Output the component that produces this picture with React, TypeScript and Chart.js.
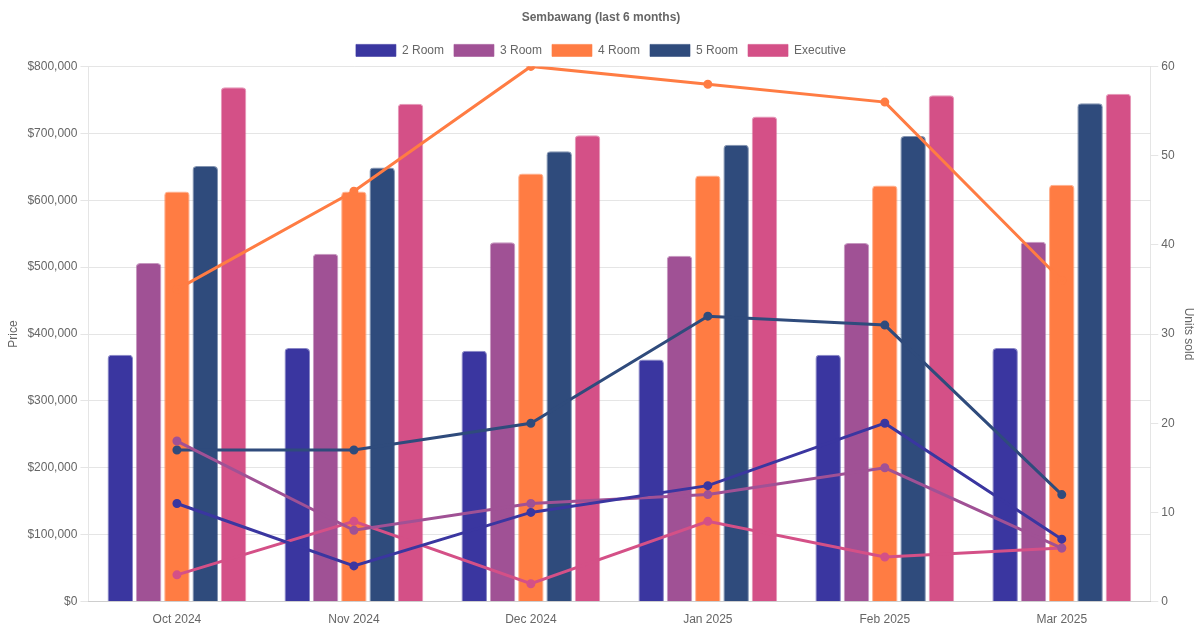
import { useEffect, useRef } from 'react';
import { Chart, registerables } from 'chart.js';

Chart.register(...registerables);

const MONTHS = ['Oct 2024', 'Nov 2024', 'Dec 2024', 'Jan 2025', 'Feb 2025', 'Mar 2025'];
const FLAT_TYPES = ['2 Room', '3 Room', '4 Room', '5 Room', 'Executive'];
const COLORS = ['#3a36a0', '#a05195', '#ff7c43', '#2f4b7c', '#d45087'];

// median price per flat type (left axis)
const PRICE_2R = [369000, 379000, 375000, 362000, 369000, 379000];
const PRICE_3R = [506000, 520000, 537000, 517000, 536000, 538000];
const PRICE_4R = [613000, 613000, 640000, 637000, 622000, 623000];
const PRICE_5R = [651000, 649000, 673000, 683000, 696000, 745000];
const PRICE_EX = [769000, 744000, 697000, 725000, 757000, 759000];

// units sold per flat type (right axis)
const UNITS_2R = [11, 4, 10, 13, 20, 7];
const UNITS_3R = [18, 8, 11, 12, 15, 6];
const UNITS_4R = [35, 46, 60, 58, 56, 36];
const UNITS_5R = [17, 17, 20, 32, 31, 12];
const UNITS_EX = [3, 9, 2, 9, 5, 6];

const PRICES = [PRICE_2R, PRICE_3R, PRICE_4R, PRICE_5R, PRICE_EX];
const UNITS = [UNITS_2R, UNITS_3R, UNITS_4R, UNITS_5R, UNITS_EX];

const App: React.FC = () => {
    const chartRef = useRef<HTMLCanvasElement | null>(null);

    useEffect(() => {
        const ctx = chartRef.current?.getContext('2d');
        if (!ctx) return;

        const barSets = FLAT_TYPES.map((name, i) => ({
            type: 'bar' as const,
            label: name,
            data: PRICES[i],
            backgroundColor: COLORS[i],
            borderColor: COLORS[i] + '99',
            borderWidth: 1,
            borderRadius: 4,
            yAxisID: 'y',
            order: 2,
        }));

        const lineSets = FLAT_TYPES.map((name, i) => ({
            type: 'line' as const,
            label: name + ' units',
            data: UNITS[i],
            borderColor: COLORS[i],
            backgroundColor: COLORS[i],
            borderWidth: 3,
            pointRadius: 3,
            tension: 0,
            yAxisID: 'y1',
            order: 1,
        }));

        const chart = new Chart(ctx, {
            type: 'bar',
            data: { labels: MONTHS, datasets: [...barSets, ...lineSets] as any },
            options: {
                responsive: true,
                maintainAspectRatio: false,
                animation: false,
                layout: { padding: { left: 2 } },
                plugins: {
                    title: {
                        display: true,
                        text: 'Sembawang (last 6 months)',
                        color: '#666',
                        font: { size: 12, weight: 'bold' },
                    },
                    legend: {
                        labels: {
                            color: '#666',
                            filter: (item) => FLAT_TYPES.includes(item.text),
                        },
                    },
                },
                scales: {
                    x: {
                        grid: { display: false },
                        ticks: { color: '#666' },
                    },
                    y: {
                        position: 'left',
                        min: 0,
                        max: 800000,
                        ticks: {
                            stepSize: 100000,
                            color: '#666',
                            callback: (v) => '$' + Number(v).toLocaleString('en-US'),
                        },
                        title: { display: true, text: 'Price', color: '#666' },
                    },
                    y1: {
                        position: 'right',
                        min: 0,
                        max: 60,
                        grid: { drawOnChartArea: false },
                        ticks: { stepSize: 10, color: '#666' },
                        title: { display: true, text: 'Units sold', color: '#666' },
                    },
                },
            },
        });

        return () => {
            chart.destroy();
        };
    }, []);

    return (
        <div style={{ position: 'fixed', left: 0, top: 0, width: 1200, height: 630, background: '#fff' }}>
            <canvas ref={chartRef}></canvas>
        </div>
    );
};

export default App;
